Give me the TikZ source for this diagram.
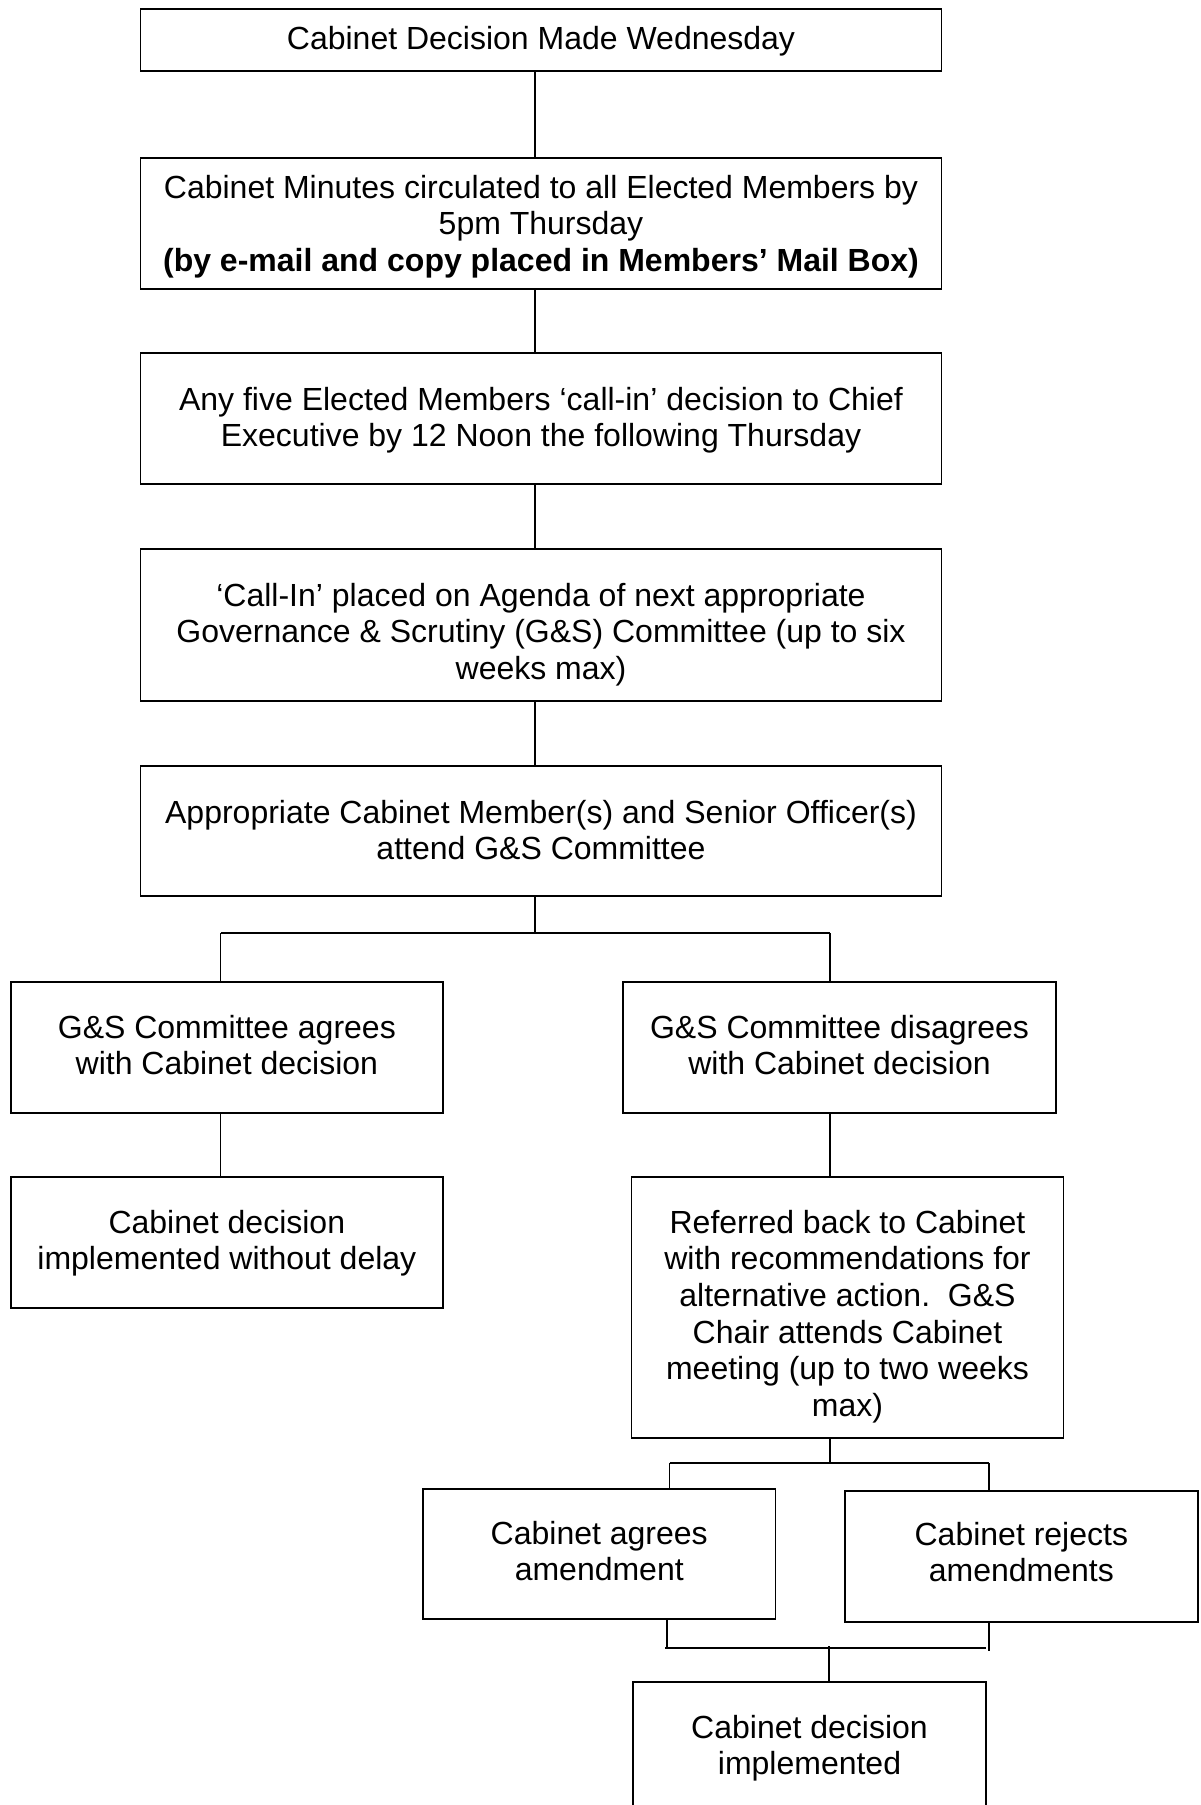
\documentclass[tikz,border=0pt]{standalone}
\usepackage{fontspec}
\setmainfont{Liberation Sans}
\newcommand\boxlines[1]{\begin{tabular}[t]{@{}c@{}}#1\end{tabular}}
\tikzset{
  box/.style={draw=black, line width=1.7pt, inner sep=0pt, outer sep=0pt},
  txt/.style={inner sep=0pt, outer sep=0pt, anchor=base, font=\fontsize{32}{36.7}\selectfont},
  conn/.style={draw=black, line width=1.3pt},
}
\begin{document}
\begin{tikzpicture}[x=1pt,y=-1pt]
\clip (0,0) rectangle (1201,1805);
\fill[white] (0,0) rectangle (1201,1805);

% boxes
\node[box, minimum width=801pt, minimum height=62pt] (b1) at (541,39.7) {};
\node[box, minimum width=801pt, minimum height=131pt] (b2) at (541,223.2) {};
\node[box, minimum width=801pt, minimum height=131pt] (b3) at (541,418.5) {};
\node[box, minimum width=801pt, minimum height=152pt] (b4) at (541,625) {};
\node[box, minimum width=801pt, minimum height=130pt] (b5) at (541,831) {};
\node[box, minimum width=432.3pt, minimum height=131pt] (b6l) at (226.85,1047.5) {};
\node[box, minimum width=433pt, minimum height=131pt] (b6r) at (839.5,1047.5) {};
\node[box, minimum width=432.3pt, minimum height=131pt] (b7l) at (226.85,1242.5) {};
\node[box, minimum width=432.2pt, minimum height=261pt] (b7r) at (847.5,1307.5) {};
\node[box, minimum width=352.5pt, minimum height=130pt] (b8l) at (599.25,1554) {};
\node[box, minimum width=352.7pt, minimum height=131pt] (b8r) at (1021.35,1556.2) {};
\node[box, minimum width=353pt, minimum height=200pt] (b9) at (809.5,1782) {};

% texts
\node[txt] (t1) at ([yshift=-40.3pt]b1.north) {\boxlines{Cabinet Decision Made Wednesday}};
\node[txt] (t2) at ([yshift=-40.3pt]b2.north) {\boxlines{Cabinet Minutes circulated to all Elected Members by\\5pm Thursday\\\textbf{(by e-mail and copy placed in Members’ Mail Box)}}};
\node[txt] (t3) at ([yshift=-57pt]b3.north) {\boxlines{Any five Elected Members ‘call-in’ decision to Chief\\Executive by 12 Noon the following Thursday}};
\node[txt] (t4) at ([yshift=-57pt]b4.north) {\boxlines{‘Call-In’ placed on Agenda of next appropriate\\Governance \& Scrutiny (G\&S) Committee (up to six\\weeks max)}};
\node[txt] (t5) at ([yshift=-57pt]b5.north) {\boxlines{Appropriate Cabinet Member(s) and Senior Officer(s)\\attend G\&S Committee}};
\node[txt] (t6l) at ([yshift=-56pt]b6l.north) {\boxlines{G\&S Committee agrees\\with Cabinet decision}};
\node[txt] (t6r) at ([yshift=-56pt]b6r.north) {\boxlines{G\&S Committee disagrees\\with Cabinet decision}};
\node[txt] (t7l) at ([yshift=-56pt]b7l.north) {\boxlines{Cabinet decision\\implemented without delay}};
\node[txt] (t7r) at ([yshift=-56pt]b7r.north) {\boxlines{Referred back to Cabinet\\with recommendations for\\alternative action.\ \ G\&S\\Chair attends Cabinet\\meeting (up to two weeks\\max)}};
\node[txt] (t8l) at ([yshift=-55pt]b8l.north) {\boxlines{Cabinet agrees\\amendment}};
\node[txt] (t8r) at ([yshift=-54.3pt]b8r.north) {\boxlines{Cabinet rejects\\amendments}};
\node[txt] (t9) at ([yshift=-56pt]b9.north) {\boxlines{Cabinet decision\\implemented}};

% connector coordinates
\coordinate (sp) at (535,0);
\coordinate (jc) at (535,933);
\coordinate (jl) at (220.7,933);
\coordinate (jr) at (830,933);
\coordinate (kc) at (830,1463);
\coordinate (kl) at (669.7,1463);
\coordinate (kr) at (989,1463);
\coordinate (ml) at (665,1648);
\coordinate (mr) at (986,1648);
\coordinate (mlv) at (667,1648);
\coordinate (mrv) at (989,1651);
\coordinate (mc) at (829,1646);

% connectors
\draw[conn] (b1.south -| sp) -- (b2.north -| sp);
\draw[conn] (b2.south -| sp) -- (b3.north -| sp);
\draw[conn] (b3.south -| sp) -- (b4.north -| sp);
\draw[conn] (b4.south -| sp) -- (b5.north -| sp);
\draw[conn] (b5.south -| sp) -- (jc);
\draw[conn] (jl) -- (jr);
\draw[conn] (jl) -- (jl |- b6l.north);
\draw[conn] (jr) -- (jr |- b6r.north);
\draw[conn] (b6l.south -| jl) -- (b7l.north -| jl);
\draw[conn] (b6r.south -| jr) -- (b7r.north -| jr);
\draw[conn] (b7r.south -| kc) -- (kc);
\draw[conn] (kl) -- (kr);
\draw[conn] (kl) -- (kl |- b8l.north);
\draw[conn] (kr) -- (kr |- b8r.north);
\draw[conn] (b8l.south -| mlv) -- (mlv);
\draw[conn] (b8r.south -| mrv) -- (mrv);
\draw[conn] (ml) -- (mr);
\draw[conn] (mc) -- (b9.north -| mc);
\end{tikzpicture}
\end{document}
